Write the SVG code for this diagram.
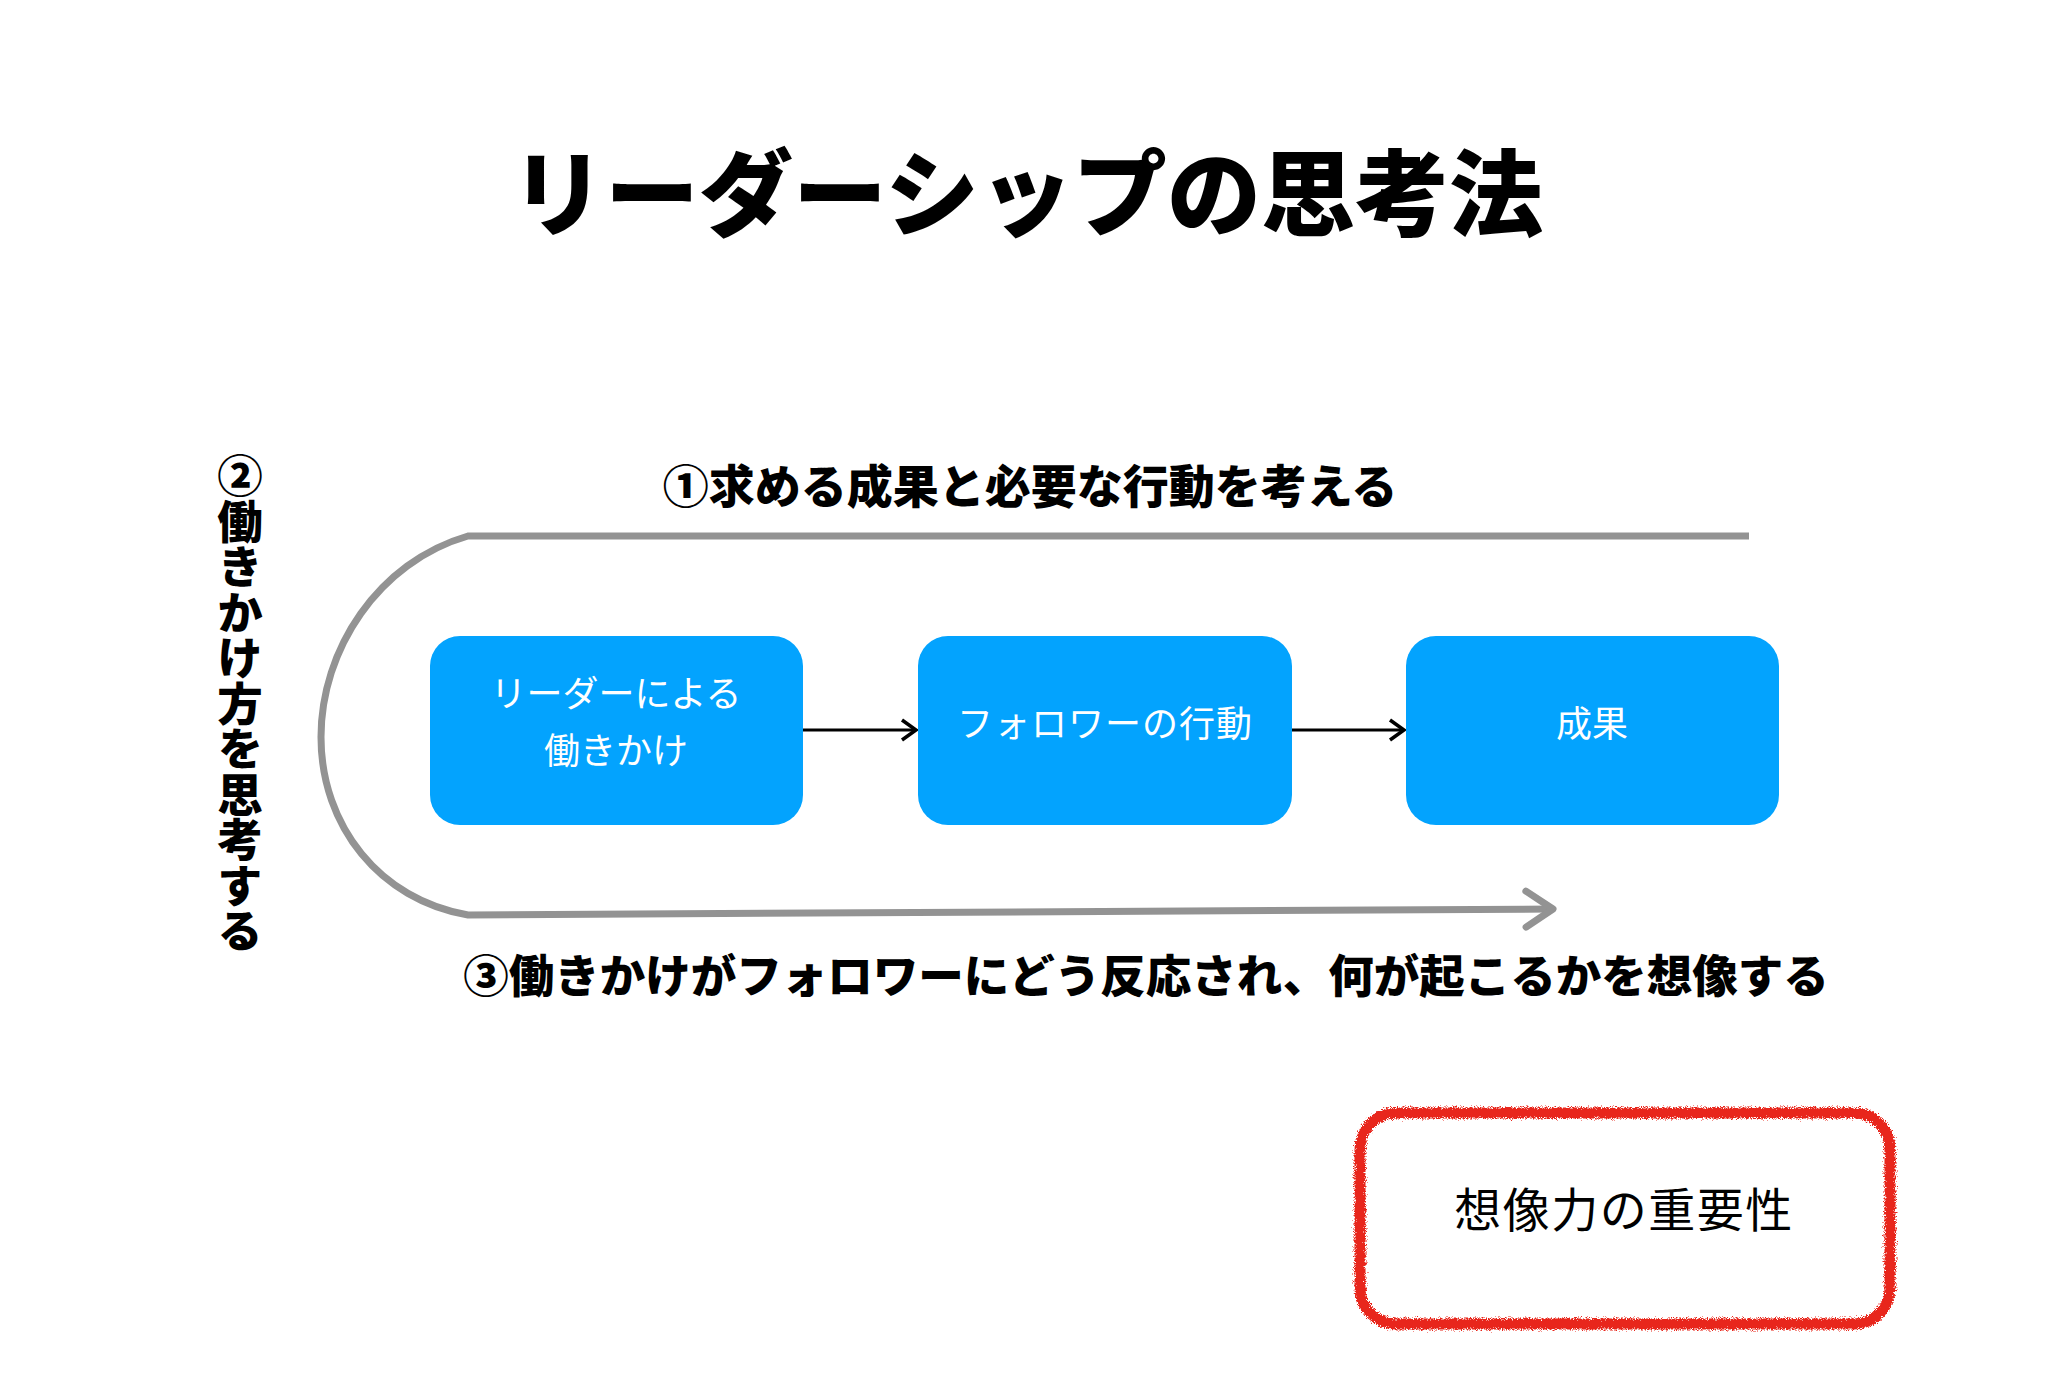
<svg xmlns="http://www.w3.org/2000/svg" width="2048" height="1397" viewBox="0 0 2048 1397">
<defs>
<style>
.jp{font-family:"Noto Sans CJK JP","Noto Sans CJK SC",sans-serif;}
.title{font-size:94px;font-weight:900;fill:#000;}
.lbl{font-weight:900;fill:#000;}
.box{fill:#03a3fe;}
.boxt{font-size:36px;fill:#fff;font-weight:400;}
.flow{fill:none;stroke:#000;stroke-width:3;}
.gray{fill:none;stroke:#939393;stroke-width:7;}
</style>
<marker id="ah" markerWidth="22" markerHeight="26" refX="17" refY="13" orient="auto" markerUnits="userSpaceOnUse">
<path d="M3 3 L17 13 L3 23" fill="none" stroke="#000" stroke-width="3.5"/>
</marker>
<marker id="gh" markerWidth="40" markerHeight="46" refX="32" refY="23" orient="auto" markerUnits="userSpaceOnUse">
<path d="M5 5 L32 23 L5 41" fill="none" stroke="#939393" stroke-width="7" stroke-linecap="round" stroke-linejoin="round"/>
</marker>
<filter id="rough" x="-5%" y="-10%" width="110%" height="120%">
<feTurbulence type="fractalNoise" baseFrequency="1.2" numOctaves="3" seed="4" result="n"/>
<feDisplacementMap in="SourceGraphic" in2="n" scale="8" xChannelSelector="R" yChannelSelector="G"/>
</filter>
</defs>
<rect width="2048" height="1397" fill="#fff"/>

<g id="title">
<text class="jp title" x="1027" y="188" text-anchor="middle" dominant-baseline="central">リーダーシップの思考法</text>
</g>

<g id="label1">
<text class="jp lbl" x="1030" y="483" font-size="46" text-anchor="middle" dominant-baseline="central">①求める成果と必要な行動を考える</text>
</g>

<g id="label2">
<text class="jp lbl" x="240" y="453" font-size="45.5" style="writing-mode:vertical-rl">②働きかけ方を思考する</text>
</g>

<g id="label3">
<text class="jp lbl" x="1146" y="973" font-size="45.5" text-anchor="middle" dominant-baseline="central">③働きかけがフォロワーにどう反応され、何が起こるかを想像する</text>
</g>

<g id="connectors">
<path class="gray" d="M1749 536 L468 536 C378 562 321 650 321 737 C321 826 380 900 468 915 L1553 909" marker-end="url(#gh)"/>
<line class="flow" x1="803" y1="730" x2="916" y2="730" marker-end="url(#ah)"/>
<line class="flow" x1="1292" y1="730" x2="1404" y2="730" marker-end="url(#ah)"/>
</g>

<g id="node1">
<rect class="box" x="430" y="636" width="373" height="189" rx="30"/>
<text class="jp boxt" x="616" y="691" text-anchor="middle" dominant-baseline="central">リーダーによる</text>
<text class="jp boxt" x="616" y="748" text-anchor="middle" dominant-baseline="central">働きかけ</text>
</g>

<g id="node2">
<rect class="box" x="918" y="636" width="374" height="189" rx="30"/>
<text class="jp boxt" x="1105" y="721" text-anchor="middle" dominant-baseline="central" letter-spacing="1">フォロワーの行動</text>
</g>

<g id="node3">
<rect class="box" x="1406" y="636" width="373" height="189" rx="30"/>
<text class="jp boxt" x="1592" y="721" text-anchor="middle" dominant-baseline="central">成果</text>
</g>

<g id="note">
<rect x="1360" y="1113" width="530" height="211" rx="36" fill="none" stroke="#e8261b" stroke-width="11" filter="url(#rough)"/>
<text class="jp" x="1624" y="1206" font-size="47" fill="#000" text-anchor="middle" dominant-baseline="central" letter-spacing="1.5">想像力の重要性</text>
</g>
</svg>
